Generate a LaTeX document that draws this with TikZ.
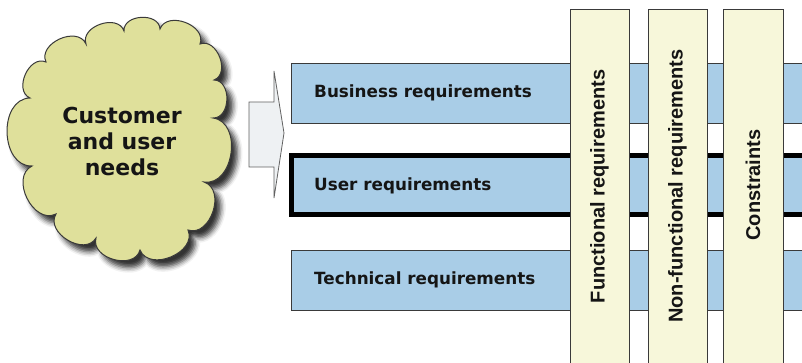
\documentclass[tikz,border=0pt]{standalone}
\usepackage{fontspec}
\newfontfamily\verdanalike{DejaVu Sans}
\newfontfamily\arialike{Liberation Sans}
\usetikzlibrary{shadows.blur}
\definecolor{cloudfill}{HTML}{DFE09B}
\definecolor{barblue}{HTML}{A9CDE7}
\definecolor{colcream}{HTML}{F7F7DA}
\definecolor{arrowfill}{HTML}{EEF1F3}
\definecolor{edgegray}{HTML}{3A3A3A}
\definecolor{inkdark}{HTML}{151515}
\tikzset{
  rowbar/.style={fill=barblue, draw=edgegray, line width=0.9pt},
  rowbarbold/.style={fill=barblue, draw=black, line width=5pt},
  colbar/.style={fill=colcream, draw=edgegray, line width=0.9pt},
  rowlabel/.style={anchor=west, inner sep=0pt, text=inkdark,
    font=\verdanalike\bfseries\fontsize{16.8}{20}\selectfont},
  collabel/.style={rotate=90, inner sep=0pt, text=inkdark,
    font=\arialike\bfseries\fontsize{20}{24}\selectfont},
  cloudtext/.style={align=center, inner sep=0pt, text=inkdark,
    font=\verdanalike\bfseries\fontsize{22}{26}\selectfont},
  puff/.style={bend left=90, looseness=1.2},
}
\begin{document}
\begin{tikzpicture}[x=1pt, y=-1pt]
\useasboundingbox (0,0) rectangle (802,363);

% cloud with soft shadow
\path[fill=cloudfill, draw=edgegray, line width=1pt,
      blur shadow={shadow xshift=6pt, shadow yshift=-7pt, shadow opacity=80, shadow blur radius=5pt}]
  (30,98)
  to[puff] (46,62)
  to[puff] (86,44)
  to[puff] (124,31)
  to[puff] (160,29)
  to[puff] (200,44)
  to[puff] (214,80)
  to[puff] (213,118)
  to[puff] (204,182)
  to[puff] (188,230)
  to[puff] (140,250)
  to[puff] (96,238)
  to[puff] (56,214)
  to[puff] (32,166)
  to[puff] cycle;
\node[cloudtext] (needs) at (122,141) {Customer\\and user\\needs};

% block arrow
\path[fill=arrowfill, draw=edgegray!80, line width=0.8pt]
  (249,102) -- (274,102) -- (274,71) -- (284,133) -- (274,198)
  -- (274,167) -- (249,167) -- cycle;
\coordinate (arrowtip) at (284,133);

% horizontal requirement rows
\path[rowbar] (291.5,63) rectangle (812,123);
\path[rowbarbold] (291.5,155.5) rectangle (812,215);
\path[rowbar] (291.5,250) rectangle (812,310);
\node[rowlabel] (blabel) at (314,93) {Business requirements};
\node[rowlabel] (ulabel) at (314,185.5) {User requirements};
\node[rowlabel] (tlabel) at (314,280) {Technical requirements};

% vertical requirement columns
\path[colbar] (570,9) rectangle (629,372);
\path[colbar] (648,9) rectangle (707,372);
\path[colbar] (723,9) rectangle (783,372);
\node[collabel] (flabel) at (599.5,186.5) {Functional requirements};
\node[collabel] (nlabel) at (677.5,186) {Non-functional requirements};
\node[collabel] (clabel) at (753,185) {Constraints};
\end{tikzpicture}
\end{document}
